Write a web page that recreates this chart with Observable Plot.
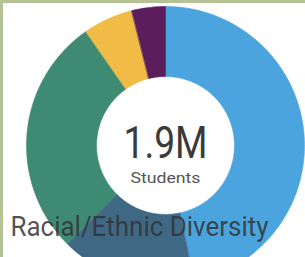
<!DOCTYPE html>
<html><head><meta charset="utf-8">
<script src="https://cdn.jsdelivr.net/npm/d3@7"></script>
<script src="https://cdn.jsdelivr.net/npm/@observablehq/plot@0.6"></script>
<style>
html,body{margin:0;padding:0;overflow:hidden;background:#b4c296;width:305px;height:257px}
#chart{position:absolute;left:3px;top:3px}
</style></head><body><div id="chart"></div>
<script>
// Slices clockwise from 12 o'clock
const groups = ["White", "Black", "Hispanic", "Asian", "Other"];
const shares = [46.7, 15.8, 27.8, 5.8, 3.9];
const colors = ["#4ba4dd", "#3f6885", "#3f8a72", "#f1bc45", "#5c1d5c"];
const totalLabel = "1.9M";
const subLabel = "Students";
const title = "Racial/Ethnic Diversity";

const innerRatio = 0.496;
const total = d3.sum(shares);
const pts = [];
let acc = 0;
groups.forEach((g, i) => {
  const a0 = acc / total * 2 * Math.PI;
  acc += shares[i];
  const a1 = acc / total * 2 * Math.PI;
  const n = Math.max(2, Math.ceil((a1 - a0) / (Math.PI / 180)));
  for (let k = 0; k <= n; k++) { const a = a0 + (a1 - a0) * k / n; pts.push({g, x: Math.sin(a), y: Math.cos(a)}); }
  for (let k = n; k >= 0; k--) { const a = a0 + (a1 - a0) * k / n; pts.push({g, x: innerRatio * Math.sin(a), y: innerRatio * Math.cos(a)}); }
});

const W = 302, H = 254, cx = 162, cy = 142, R = 139;
const font = "Roboto, 'DejaVu Sans', sans-serif";
const svg = Plot.plot({
  width: W, height: H, margin: 0,
  x: {domain: [-1, 1], range: [cx - R, cx + R], axis: null},
  y: {domain: [-1, 1], range: [cy + R, cy - R], axis: null},
  color: {domain: groups, range: colors},
  style: {background: "white"},
  marks: [
    Plot.line(pts, {x: "x", y: "y", z: "g", fill: "g", stroke: "g", strokeWidth: 0.6, curve: "linear-closed"}),
    Plot.text([totalLabel], {x: 0, y: 0, text: d => d, lineAnchor: "bottom", dy: 12, fontSize: 44, fontFamily: font, fill: "#3a3a3a"}),
    Plot.text([subLabel], {x: 0, y: 0, text: d => d, lineAnchor: "bottom", dy: 37, fontSize: 15, fontFamily: font, fill: "#555"}),
    Plot.text([title], {frameAnchor: "bottom-left", text: d => d, textAnchor: "start", lineAnchor: "bottom", dx: 7, dy: -21.5, fontSize: 27, fontFamily: font, fill: "#333", fillOpacity: 0.85})
  ]
});
document.getElementById("chart").appendChild(svg);
const lens = [84, 70, 258];
d3.select(svg).selectAll("text").each(function(d, i) {
  if (i < lens.length) d3.select(this).attr("textLength", lens[i]).attr("lengthAdjust", "spacingAndGlyphs");
});
</script></body></html>
